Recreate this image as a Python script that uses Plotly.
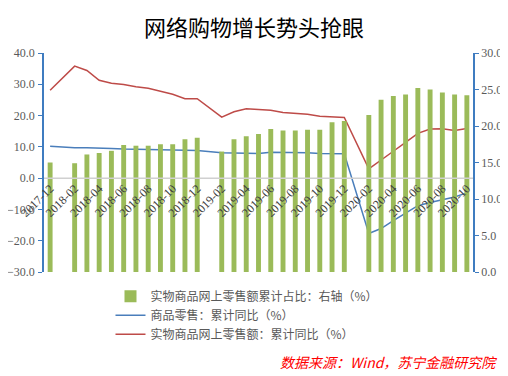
import plotly.graph_objects as go

months = []
for y in (2017, 2018, 2019, 2020):
    for m in range(1, 13):
        s = f"{y}-{m:02d}"
        if "2017-12" <= s <= "2020-10":
            months.append(s)

# 实物商品网上零售额累计占比 (right axis), January not published
share = [15.0, None, 14.9, 16.1, 16.3, 16.6, 17.4, 17.3, 17.3, 17.5, 17.5, 18.2, 18.4,
         None, 16.5, 18.2, 18.6, 18.9, 19.6, 19.4, 19.4, 19.5, 19.5, 20.5, 20.7,
         None, 21.5, 23.6, 24.1, 24.3, 25.2, 25.0, 24.6, 24.3, 24.2]
# 商品零售：累计同比
goods_yoy = [10.2, None, 9.7, 9.7, 9.7, 9.5, 9.3, 9.2, 9.2, 9.1, 9.0, 8.9, 8.8,
             None, 8.1, 8.0, 7.9, 7.9, 8.3, 8.3, 8.2, 8.1, 7.9, 7.9, 7.8,
             None, -17.7, -16.1, -13.6, -11.3, -8.8, -7.8, -6.8, -6.0, -4.7]
# 实物商品网上零售额：累计同比
online_yoy = [28.1, None, 35.8, 34.4, 31.3, 30.3, 29.9, 29.2, 28.7, 27.8, 26.8, 25.4, 25.4,
              None, 19.5, 21.2, 22.2, 22.0, 21.7, 21.0, 20.8, 20.4, 19.8, 19.7, 19.4,
              None, 3.0, 5.7, 8.6, 11.4, 14.3, 15.7, 15.8, 15.2, 15.9]

tick_labels = months[::2]

fig = go.Figure()
fig.add_trace(go.Bar(x=months, y=share, name="实物商品网上零售额累计占比：右轴（%）",
                     marker=dict(color="#9BBB59", line=dict(width=0)), yaxis="y2"))
fig.add_trace(go.Scatter(x=months, y=goods_yoy, name="商品零售：累计同比（%）", mode="lines",
                         connectgaps=True, line=dict(color="#4A7EBB", width=1.5)))
fig.add_trace(go.Scatter(x=months, y=online_yoy, name="实物商品网上零售额：累计同比（%）", mode="lines",
                         connectgaps=True, line=dict(color="#BE4B48", width=1.5)))

tickfont = dict(family="Liberation Serif", size=12, color="#595959")
fig.update_layout(
    width=500, height=368,
    margin=dict(l=36, r=35, t=45, b=104, autoexpand=False),
    paper_bgcolor="white", plot_bgcolor="white",
    bargap=0.6,
    title=dict(text="网络购物增长势头抢眼", x=0.492, xanchor="center", y=0.946, yanchor="middle",
               font=dict(family="Noto Sans CJK SC", size=22, color="black")),
    xaxis=dict(type="category", categoryorder="array", categoryarray=months,
               tickvals=tick_labels, ticktext=tick_labels, tickangle=-45,
               tickfont=dict(family="Liberation Serif", size=12, color="#404040"),
               anchor="free", position=30/70, showline=False, ticks="", automargin=False,
               showgrid=False, zeroline=False, range=[-0.5, len(months) - 0.5]),
    yaxis=dict(range=[-30, 40], dtick=10, tickformat=".1f", showgrid=False, zeroline=False,
               showline=True, linecolor="#3F7CC0", linewidth=1.5, ticks="outside", automargin=False,
               tickcolor="#3F7CC0", ticklen=4, ticklabelstandoff=1, tickfont=tickfont),
    yaxis2=dict(range=[0, 30], dtick=5, tickformat=".1f", overlaying="y", side="right",
                showgrid=False, zeroline=False, showline=True, linecolor="#3F7CC0", automargin=False,
                linewidth=1.5, ticks="outside", tickcolor="#3F7CC0", ticklen=4, tickfont=tickfont),
    legend=dict(x=0.155, y=-0.045, xanchor="left", yanchor="top", traceorder="normal",
                font=dict(family="Noto Sans CJK SC", size=12, color="#595959"),
                bgcolor="rgba(0,0,0,0)", itemwidth=30, tracegroupgap=0),
    showlegend=True,
    shapes=[dict(type="line", xref="paper", x0=0, x1=1, yref="y", y0=0, y1=0,
                 line=dict(color="#D0D0D0", width=1.5), layer="above")],
    annotations=[dict(text="数据来源：Wind，苏宁金融研究院", xref="paper", yref="paper",
                      x=1.06, y=-0.41, xanchor="right", yanchor="middle", showarrow=False,
                      font=dict(family="Noto Sans CJK SC", size=14, color="#FF0000", style="italic"))],
)

fig.write_html("out.html")
